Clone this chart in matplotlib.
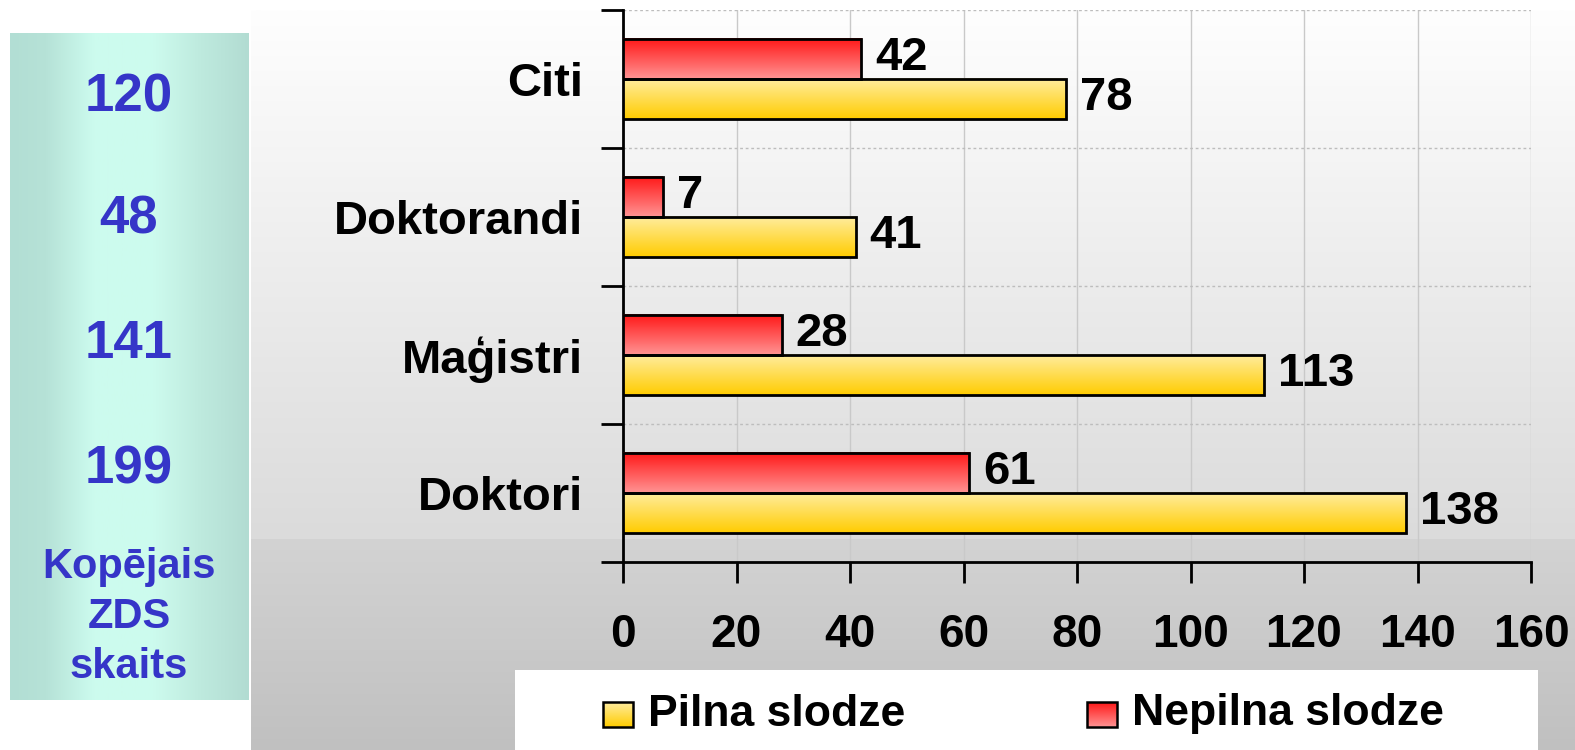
import numpy as np
import matplotlib
matplotlib.use('Agg')
import matplotlib.pyplot as plt
from matplotlib.patches import Rectangle

plt.rcParams['font.family'] = ['Liberation Sans', 'DejaVu Sans']

# ---- data ----
categories = ['Doktori', 'Maģistri', 'Doktorandi', 'Citi']
pilna = [138, 113, 41, 78]
nepilna = [61, 28, 7, 42]
totals = [199, 141, 48, 120]
xticks = [0, 20, 40, 60, 80, 100, 120, 140, 160]
series_names = ['Pilna slodze', 'Nepilna slodze']
side_title = 'Kopējais\nZDS\nskaits'

W, H = 1575, 750
fig = plt.figure(figsize=(W / 100, H / 100), dpi=100)
fig.patch.set_facecolor('white')

# ---- background layer (pixel coordinates) ----
bg = fig.add_axes([0, 0, 1, 1], zorder=-5)
bg.set_xlim(0, W)
bg.set_ylim(H, 0)
bg.axis('off')


def vgrad(c_top, c_bot, n=256):
    t = np.linspace(0, 1, n)[:, None, None]
    return np.array(c_top)[None, None, :] * (1 - t) + np.array(c_bot)[None, None, :] * t


def hgrad(stops, n=256):
    xs = np.linspace(0, 1, n)
    pos = [s[0] for s in stops]
    out = np.zeros((1, n, 3))
    for k in range(3):
        out[0, :, k] = np.interp(xs, pos, [s[1][k] for s in stops])
    return out


g = lambda v: (v / 255, v / 255, v / 255)
bg.imshow(vgrad(g(254), g(219)), extent=(251, W, 539, 10), aspect='auto', origin='upper',
          interpolation='bilinear', zorder=0)
bg.imshow(vgrad(g(211), g(192)), extent=(251, W, H, 539), aspect='auto', origin='upper',
          interpolation='bilinear', zorder=0)

teal = hgrad([(0.0, (178/255, 222/255, 212/255)), (0.15, (182/255, 226/255, 215/255)),
              (0.35, (204/255, 251/255, 238/255)), (0.6, (205/255, 251/255, 238/255)),
              (0.8, (190/255, 234/255, 222/255)), (1.0, (178/255, 220/255, 210/255))])
bg.imshow(teal, extent=(10, 249, 700, 33), aspect='auto', origin='upper',
          interpolation='bilinear', zorder=0)

blue = '#3535c8'
side_y = [469, 344, 219, 97]
for v, yy in zip(totals, side_y):
    bg.text(129, yy, str(v), ha='center', va='center', fontsize=38, fontweight='bold',
            color=blue, zorder=3)
bg.text(129, 617, side_title, ha='center', va='center', fontsize=30, fontweight='bold',
        color=blue, linespacing=1.33, zorder=3)

# legend box
bg.add_patch(Rectangle((515, 670), 1023, 80, facecolor='white', edgecolor='none', zorder=1))

red_top, red_bot = (1.0, 0.09, 0.09), (1.0, 0.58, 0.58)
yel_top, yel_bot = (1.0, 0.93, 0.63), (1.0, 0.80, 0.0)

for (x0, txt, ct, cb) in [(603, series_names[0], yel_top, yel_bot),
                          (1087, series_names[1], red_top, red_bot)]:
    bg.imshow(vgrad(ct, cb), extent=(x0, x0 + 30, 727, 702), aspect='auto', origin='upper',
              interpolation='bilinear', zorder=2)
    bg.add_patch(Rectangle((x0, 702), 30, 25, facecolor='none', edgecolor='black', lw=1.8, zorder=3))
    bg.text(x0 + 45, 714, txt, ha='left', va='center', fontsize=32, fontweight='bold',
            color='black', zorder=3)

# ---- main axes ----
L, R, T, B = 623, 1531, 10, 562
ax = fig.add_axes([L / W, (H - B) / H, (R - L) / W, (B - T) / H])
ax.set_facecolor('none')

y = np.arange(len(categories))
h = 0.29
b_p = ax.barh(y - h / 2, pilna, height=h, facecolor='none', edgecolor='black', linewidth=2, zorder=4)
b_n = ax.barh(y + h / 2, nepilna, height=h, facecolor='none', edgecolor='black', linewidth=2, zorder=4)

for bars, ct, cb in [(b_p, yel_top, yel_bot), (b_n, red_top, red_bot)]:
    for bar in bars:
        x0, y0 = bar.get_x(), bar.get_y()
        w, hh = bar.get_width(), bar.get_height()
        ax.imshow(vgrad(ct, cb), extent=(x0, x0 + w, y0, y0 + hh), aspect='auto',
                  origin='upper', zorder=3, interpolation='bilinear')

for bars, vals in [(b_p, pilna), (b_n, nepilna)]:
    for bar, v in zip(bars, vals):
        ax.annotate(str(v), xy=(v, bar.get_y() + bar.get_height() / 2), xytext=(10, 1),
                    textcoords='offset points', ha='left', va='center',
                    fontsize=34, fontweight='bold', color='black', zorder=5)

ax.set_xlim(0, 160)
ax.set_ylim(-0.5, len(categories) - 0.5)
ax.set_aspect('auto')

ax.set_xticks(xticks)
ax.set_xticklabels([str(t) for t in xticks], fontsize=33, fontweight='bold')
ax.set_yticks(np.arange(len(categories) + 1) - 0.5)
ax.set_yticklabels([])
ax.set_yticks(y, minor=True)
ax.set_yticklabels(categories, minor=True, fontsize=34, fontweight='bold')

ax.tick_params(axis='x', which='major', length=15, width=2, direction='out', pad=22, colors='black')
ax.tick_params(axis='y', which='major', length=16, width=2, direction='out')
ax.tick_params(axis='y', which='minor', length=0, pad=29)

ax.grid(axis='x', which='major', color='#c9c9c9', linewidth=1, zorder=0)
ax.grid(axis='y', which='major', color='#bdbdbd', linewidth=1, linestyle=(0, (2, 2)), zorder=0)
ax.set_axisbelow(True)

for s in ['top', 'right']:
    ax.spines[s].set_visible(False)
for s in ['left', 'bottom']:
    ax.spines[s].set_linewidth(2)
    ax.spines[s].set_color('black')

fig.savefig('out.png', dpi=100)
